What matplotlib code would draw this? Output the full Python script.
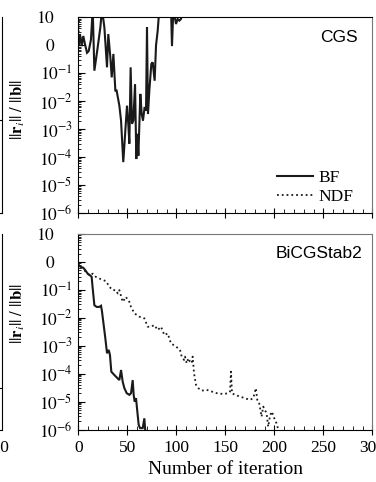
import matplotlib
matplotlib.use("Agg")
import matplotlib.pyplot as plt
from matplotlib.ticker import FixedLocator, MultipleLocator, LogLocator, NullFormatter
from matplotlib.transforms import blended_transform_factory
import numpy as np

plt.rcParams['font.family'] = 'serif'
plt.rcParams['font.serif'] = ['Liberation Serif', 'DejaVu Serif']
plt.rcParams['mathtext.fontset'] = 'stix'

# CGS residual history (iteration, log10 of ||r_i||/||b||)
cgs_bf_iter = [0, 0.4, 1.7, 3.4, 5.1, 6.8, 8.9, 10.6, 12.9, 14.7, 16.4, 19.8, 22.5, 24.2,
               26.6, 29.3, 30.6, 32.7, 34.1, 35.8, 37.8, 39.1, 41.9, 43.6, 45.9, 48.0,
               49.7, 51.0, 52.1, 53.4, 54.8, 56.2, 57.9, 59.2, 60.2, 61.3, 63.3, 64.7,
               66.0, 67.7, 69.1, 70.1, 71.1, 72.5, 74.5, 75.9, 77.9, 79.3, 81.0, 82.7,
               94.6, 95.6, 97.0, 99.7, 101.4, 103.1, 104.8, 106.5]
cgs_bf_log = [0.1, -0.01, 0.40, -0.03, 0.33, 0.04, -0.27, -0.21, 0.20, 1.3, -0.91, -0.07, 0.64, 1.3,
              0.64, -0.79, 0.40, -0.43, -1.15, -0.31, -1.62, -1.62, -2.16, -2.69, -4.18, -3.05,
              -2.16, -2.81, -3.52, -0.79, -2.81, -2.69, -1.39, -4.07, -3.17, -3.95, -1.74, -2.46,
              -2.69, -2.21, -2.34, 0.64, -2.46, -1.62, -0.67, -0.61, -1.27, -0.01, 0.52, 1.3,
              1.3, -0.03, 1.3, 0.76, 0.94, 0.88, 0.94, 1.3]
cgs_ndf_iter = [0, 0.5, 1.0]
cgs_ndf_log = [-0.05, 0.6, 1.5]

# BiCGStab2 residual history
bicg_bf_iter = [0, 0.4, 2.7, 5.1, 7.2, 9.6, 11.9, 13.6, 14.7, 16.4, 18.7, 21.5, 23.2, 24.2,
                25.9, 27.6, 29.3, 31.0, 32.3, 33.7, 36.8, 40.2, 41.9, 43.6, 45.3, 47.0,
                49.4, 52.1, 53.8, 55.5, 56.5, 57.5, 58.9, 59.9, 61.6, 63.0, 65.7, 67.4,
                68.1, 69.0]
bicg_bf_log = [-0.08, -0.12, -0.18, -0.21, -0.30, -0.42, -0.48, -0.53, -0.95, -1.55, -1.61,
               -1.61, -1.57, -1.78, -2.26, -2.74, -3.27, -3.15, -3.33, -3.93, -4.05, -4.17,
               -4.23, -3.87, -4.29, -4.52, -4.70, -4.76, -4.70, -4.23, -4.76, -5.0, -4.88,
               -5.24, -5.83, -5.95, -5.95, -5.6, -5.95, -6.2]
bicg_ndf_iter = [0, 0.4, 4.5, 7.9, 11.3, 14.7, 18.1, 23.2, 28.3, 31.7, 35.1, 38.5, 40.2, 41.9,
                 45.3, 48.7, 50.4, 52.1, 53.8, 57.2, 62.3, 67.4, 70.8, 74.2, 77.6, 81.0,
                 84.4, 87.8, 91.2, 94.6, 99.7, 103.8, 105.5, 107.9, 108.9, 110.6, 112.3,
                 114.0, 115.7, 116.7, 118.1, 120.1, 122.5, 125.9, 131.0, 136.1, 141.2,
                 148.0, 153.1, 154.8, 155.8, 156.8, 159.8, 164.9, 170.0, 175.1, 178.5,
                 181.2, 182.6, 184.3, 187.0, 188.7, 190.4, 192.1, 193.8, 195.5, 197.2,
                 198.9, 200.6, 202.3, 204.0, 205.0]
bicg_ndf_log = [-0.05, -0.12, -0.24, -0.36, -0.48, -0.42, -0.54, -0.62, -0.69, -0.89, -1.01,
                -1.01, -1.13, -1.01, -1.43, -1.25, -1.37, -1.43, -1.61, -1.84, -1.96, -2.02,
                -2.32, -2.32, -2.26, -2.44, -2.32, -2.62, -2.56, -2.92, -3.03, -3.15, -3.39,
                -3.51, -3.39, -3.63, -3.45, -3.57, -3.63, -3.39, -3.99, -4.40, -4.52, -4.61,
                -4.58, -4.64, -4.70, -4.73, -4.70, -4.64, -3.93, -4.70, -4.76, -4.82, -4.88,
                -4.94, -4.88, -4.52, -4.94, -5.0, -5.54, -5.18, -5.30, -5.42, -5.90, -5.54,
                -5.36, -5.48, -5.66, -5.78, -6.0, -6.2]

ytick_vals = [1e1, 1e0, 1e-1, 1e-2, 1e-3, 1e-4, 1e-5, 1e-6]
ytick_labels = ['', '', r'$10^{-1}$', r'$10^{-2}$', r'$10^{-3}$',
                r'$10^{-4}$', r'$10^{-5}$', r'$10^{-6}$']
# top two decades are labelled without the superscript column
ytick_plain = [(1e1, '10'), (1e0, '0')]
xtick_vals = [0, 50, 100, 150, 200, 250, 300]

fig = plt.figure(figsize=(3.76, 4.82), dpi=100)
W, H = 376.0, 482.0


def px_axes(left, top, right, bottom):
    return fig.add_axes([left / W, 1 - bottom / H, (right - left) / W, (bottom - top) / H])


ax1 = px_axes(78.3, 17.3, 372.3, 213.0)
ax2 = px_axes(78.3, 234.0, 372.3, 429.5)

panels = [
    (ax1, cgs_bf_iter, cgs_bf_log, cgs_ndf_iter, cgs_ndf_log, 'CGS', 0.952, 0.529),
    (ax2, bicg_bf_iter, bicg_bf_log, bicg_ndf_iter, bicg_ndf_log, 'BiCGStab2', 0.966, 0.593),
]

for ax, bx, by, nx, ny, name, name_x, lab_y in panels:
    ax.plot(bx, 10 ** np.array(by), color='#1a1a1a', lw=1.5, solid_joinstyle='miter', label='BF')
    ax.plot(nx, 10 ** np.array(ny), color='#1a1a1a', lw=1.3, ls=':', label='NDF')
    ax.set_yscale('log')
    ax.set_xlim(0, 300)
    ax.set_ylim(1e-6, 1e1)
    ax.yaxis.set_major_locator(FixedLocator(ytick_vals))
    ax.set_yticklabels(ytick_labels)
    ax.yaxis.set_minor_locator(LogLocator(base=10, subs=np.arange(2, 10), numticks=20))
    ax.yaxis.set_minor_formatter(NullFormatter())
    ax.set_xticks(xtick_vals)
    ax.xaxis.set_minor_locator(MultipleLocator(10))
    ax.tick_params(axis='y', which='major', direction='in', length=5, width=0.8,
                   labelsize=12.5, pad=4)
    ax.tick_params(axis='y', which='minor', direction='in', length=2.5, width=0.6)
    ax.tick_params(axis='x', which='major', direction='inout', length=7, width=0.8,
                   labelsize=12.5, pad=4)
    ax.tick_params(axis='x', which='minor', direction='in', length=3, width=0.6)
    ax.spines['right'].set_color('#777777')
    ax.set_ylabel(r'$||\mathbf{r}_i||\ /\ ||\mathbf{b}||$', fontsize=12)
    ax.yaxis.set_label_coords(-0.175, lab_y)
    ax.text(name_x, 0.899, name, transform=ax.transAxes, ha='right', va='center',
            family='Liberation Sans', fontsize=12.5)
    trans = blended_transform_factory(ax.transAxes, ax.transData)
    for yv, txt in ytick_plain:
        ax.text(-0.0793, yv, '$' + txt + '$', transform=trans, ha='right',
                va='center_baseline', fontsize=12.5, clip_on=False)

ax2.spines['top'].set_color('#777777')
ax1.tick_params(axis='x', labelbottom=False)
ax2.set_xlabel('Number of iteration', fontsize=14, labelpad=4)

ax1.legend(loc='upper left', bbox_to_anchor=(0.6765, 0.221), frameon=False, fontsize=12.5,
           handlelength=2.05, handletextpad=0.3, labelspacing=0.15, borderpad=0,
           borderaxespad=0)

# right edge of the neighbouring panels
for top, bottom, tick in [(17.3, 213.0, 0.475), (234.0, 429.5, 0.21)]:
    nb = px_axes(-200, top, 2, bottom)
    nb.set_xlim(0, 1)
    nb.set_ylim(0, 1)
    for s in ['left', 'top', 'bottom']:
        nb.spines[s].set_visible(False)
    nb.set_xticks([])
    nb.yaxis.tick_right()
    nb.set_yticks([0, tick])
    nb.set_yticklabels([])
    nb.tick_params(axis='y', direction='in', length=4, width=0.8)
    nb.patch.set_visible(False)

fig.text(9.5 / W, 1 - 448 / H, '300', ha='right', va='center', fontsize=12.5)

fig.savefig('out.png', dpi=100)
